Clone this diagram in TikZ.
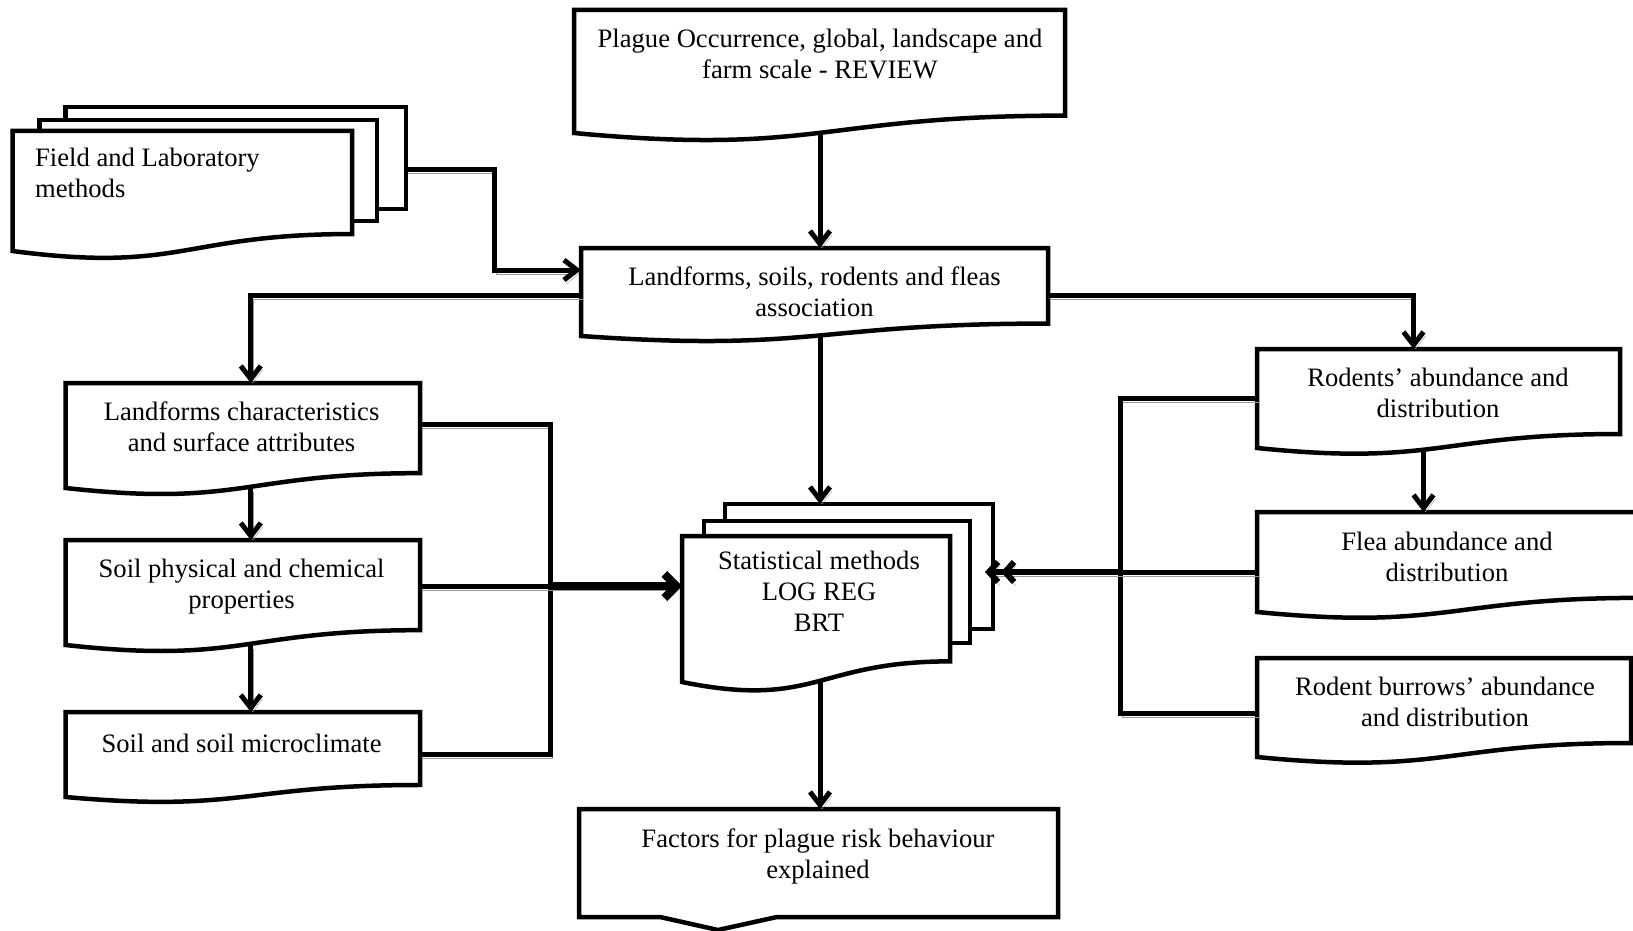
\documentclass[tikz,border=0pt]{standalone}
\usepackage{fontspec}
\setmainfont{Liberation Serif}
\usetikzlibrary{arrows.meta,calc,fit}
\tikzset{
  frame/.style={inner sep=0pt, outer sep=0pt, draw=none},
  boxline/.style={line width=4.5pt, fill=white, line join=miter},
  sheetbox/.style={frame, draw, line width=4.5pt, fill=white},
  txt/.style={inner sep=0pt, align=center, font=\fontsize{26.6}{31}\selectfont},
  conn/.style={line width=5pt, preaction={draw=black!40, transform canvas={xshift=2pt,yshift=-4pt}}},
  arr/.style={-{Straight Barb[length=13pt,width=20pt]}},
  thickconn/.style={conn, line width=8pt},
  midconn/.style={conn, line width=6pt},
  bigarr/.style={-{Straight Barb[length=12pt,width=24pt]}},
  dblarr/.style={-{Straight Barb[length=9pt,width=20pt] Straight Barb[length=9pt,width=20pt]}},
}
% document shape: #1 name, (#2,#3) top left, #4 right x, #5 left-bottom y
\newcommand\docbox[5]{%
  \node[frame, fit={(#2,#3) (#4,#5)}] (#1) {};
  \draw[boxline] let \p1=(#1.north west), \p2=(#1.south east), \n1={\y1-\y2} in
    (\x1,\y1) -- (\x2,\y1) -- (\x2,{\y2+0.1413*\n1})
    .. controls ({(\x1+\x2)/2},{\y2+0.1413*\n1}) and ({(\x1+\x2)/2},{\y2-0.1858*\n1}) .. (\x1,\y2) -- cycle;
}
\begin{document}
\begin{tikzpicture}[x=1pt,y=-1pt]
\useasboundingbox (0,0) rectangle (1633,931);
\clip (0,0) rectangle (1633,931);

% ---------- boxes ----------
\docbox{Plague}{574}{10}{1065}{133}
\node[txt] (Plague-t) at (820,53.6) {Plague Occurrence, global, landscape and\\farm scale - REVIEW};

\node[sheetbox, fit={(65.6,107) (406,209)}] (F3) {};
\node[sheetbox, fit={(39.6,120) (377,221)}] (F2) {};
\docbox{F1}{12.5}{131}{352}{251}
\node[txt, align=left, anchor=west] (F1-t) at (35,173) {Field and Laboratory\\methods};

\docbox{LS}{581}{248}{1048}{336}
\node[txt] (LS-t) at (814.5,291.5) {Landforms, soils, rodents and fleas\\association};

\docbox{LC}{65.6}{383}{420}{488}
\node[txt] (LC-t) at (241.6,427) {Landforms characteristics\\and surface attributes};

\docbox{SP}{65.6}{540}{420}{645}
\node[txt] (SP-t) at (241.6,586.5) {Soil physical and chemical\\properties};

\docbox{SM}{65.6}{712}{420}{797}
\node[txt] (SM-t) at (241.6,743) {Soil and soil microclimate};

\node[sheetbox, fit={(725,504) (993,629)}] (St3) {};
\node[sheetbox, fit={(704,521) (970,643)}] (St2) {};
\docbox{St1}{682}{536}{950}{682}
\node[txt] (St1-t) at (819,591) {Statistical methods\\LOG REG\\BRT};

\docbox{Rod}{1257}{349}{1620}{448}
\node[txt] (Rod-t) at (1438,392.5) {Rodents’ abundance and\\distribution};

\docbox{Flea}{1257}{512}{1640}{612}
\node[txt] (Flea-t) at (1447,556.5) {Flea abundance and\\distribution};

\docbox{Bur}{1257}{658}{1631}{757}
\node[txt] (Bur-t) at (1445,702) {Rodent burrows’ abundance\\and distribution};

\node[frame, fit={(579,809) (1058,917)}] (Fac) {};
\draw[boxline] (Fac.south west) -- (Fac.north west) -- (Fac.north east) -- (Fac.south east)
  -- ($(Fac.south west)+(198,0)$) -- ($(Fac.south west)+(139,13)$) -- ($(Fac.south west)+(81,0)$) -- cycle;
\node[txt] (Fac-t) at (818,856) {Factors for plague risk behaviour\\explained};

% ---------- connectors ----------
\coordinate (fk) at (494,270);
\coordinate (jl) at (550,586);
\coordinate (jr) at (1120,572);
\coordinate (cx) at (820,0);

\draw[conn,arr] (Plague.south -| cx) -- (LS.north -| cx);
\draw[conn,arr] ([yshift=-11pt]F3.east) -| (fk) -- (fk -| LS.west);
\draw[conn,arr] ([yshift=-3pt]LS.west) -| ([xshift=8pt]LC.north);
\draw[conn,arr] ([yshift=-3pt]LS.east) -| ([xshift=-25pt]Rod.north);
\draw[conn,arr] (LS.south -| cx) -- (St3.north -| cx);
\draw[conn,arr] ([xshift=8pt]LC.south) -- ([xshift=8pt]SP.north);
\draw[conn,arr] ([xshift=8pt]SP.south) -- ([xshift=8pt]SM.north);
\draw[conn] ([yshift=11.5pt]LC.east) -| (jl) |- (SM.east);
\draw[conn] ([yshift=6.5pt]SP.east) -- (jl);
\draw[thickconn,bigarr] (jl) -- (jl -| St1.west);
\draw[conn] (Rod.west) -| (jr) |- ([yshift=-5.5pt]Bur.west);
\draw[conn] ([yshift=-10pt]Flea.west) -- (jr);
\draw[midconn,dblarr] (jr) -- ([xshift=-8pt]jr -| St3.east);
\draw[conn,arr] ([xshift=-15pt]Rod.south) -- ([xshift=-15pt]Rod.south |- Flea.north);
\draw[conn,arr] (St1.south -| cx) -- (Fac.north -| cx);
\end{tikzpicture}
\end{document}
